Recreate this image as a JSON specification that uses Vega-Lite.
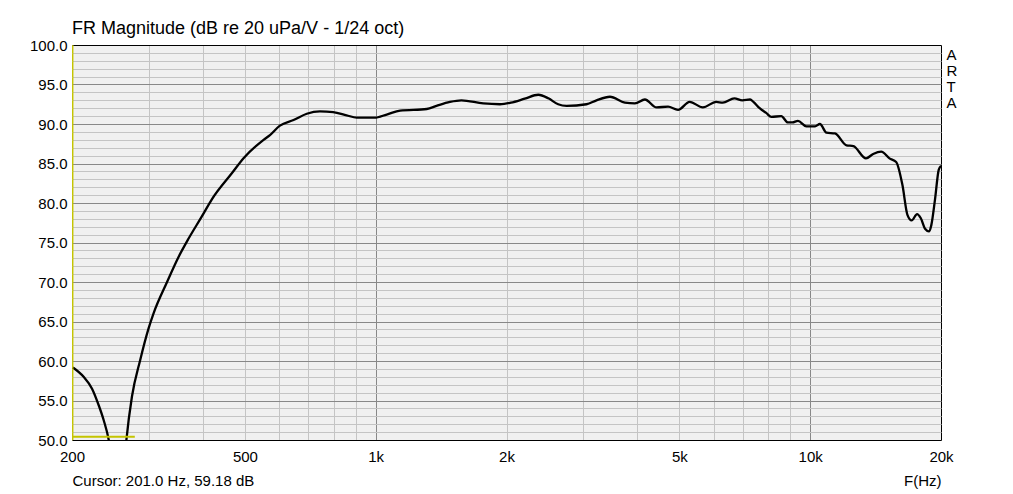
{
  "$schema": "https://vega.github.io/schema/vega-lite/v6.json",
  "width": 869,
  "height": 395,
  "autosize": {"type": "none"},
  "padding": {"left": 72, "top": 45, "right": 72, "bottom": 54},
  "background": "#ffffff",
  "config": {
    "view": {"fill": "#f0f0f0", "stroke": null},
    "font": "Liberation Sans"
  },
  "title": {
    "text": "FR Magnitude (dB re 20 uPa/V - 1/24 oct)",
    "anchor": "start",
    "frame": "group",
    "orient": "top",
    "font": "Liberation Sans",
    "fontSize": 18,
    "fontWeight": "normal",
    "color": "#000000",
    "baseline": "alphabetic",
    "offset": 8,
    "dy": 22
  },
  "datasets": {
    "curve": [
      {"f": 201, "db": 59.18}, {"f": 212.7, "db": 58.0}, {"f": 222.4, "db": 56.5}, {"f": 230.4, "db": 54.4},
      {"f": 236.6, "db": 52.5}, {"f": 243, "db": 50.0}, {"f": 250, "db": 45}, {"f": 256, "db": 39},
      {"f": 262, "db": 45}, {"f": 266.8, "db": 50.0}, {"f": 274.8, "db": 55.5}, {"f": 287, "db": 60.1},
      {"f": 300, "db": 64.1}, {"f": 308, "db": 66.0}, {"f": 331, "db": 70.0}, {"f": 352, "db": 73.2},
      {"f": 371, "db": 75.5}, {"f": 398, "db": 78.3}, {"f": 420, "db": 80.5}, {"f": 467, "db": 83.8},
      {"f": 497, "db": 85.7}, {"f": 552, "db": 88.0}, {"f": 571, "db": 88.6}, {"f": 602, "db": 89.8},
      {"f": 647, "db": 90.5}, {"f": 694, "db": 91.3}, {"f": 744, "db": 91.6}, {"f": 798, "db": 91.5},
      {"f": 857, "db": 91.1}, {"f": 904, "db": 90.8}, {"f": 993, "db": 90.8}, {"f": 1060, "db": 91.2},
      {"f": 1138, "db": 91.7}, {"f": 1311, "db": 91.9}, {"f": 1380, "db": 92.3}, {"f": 1482, "db": 92.8},
      {"f": 1575, "db": 93.0}, {"f": 1768, "db": 92.6}, {"f": 1932, "db": 92.5}, {"f": 2047, "db": 92.7},
      {"f": 2203, "db": 93.2}, {"f": 2367, "db": 93.7}, {"f": 2497, "db": 93.25}, {"f": 2630, "db": 92.5},
      {"f": 2750, "db": 92.3}, {"f": 3056, "db": 92.5}, {"f": 3222, "db": 93.0}, {"f": 3460, "db": 93.45},
      {"f": 3746, "db": 92.7}, {"f": 3950, "db": 92.6}, {"f": 4164, "db": 93.1}, {"f": 4430, "db": 92.1},
      {"f": 4708, "db": 92.2}, {"f": 4964, "db": 91.8}, {"f": 5280, "db": 92.8}, {"f": 5660, "db": 92.1},
      {"f": 6076, "db": 92.8}, {"f": 6292, "db": 92.7}, {"f": 6690, "db": 93.25}, {"f": 6980, "db": 93.0},
      {"f": 7272, "db": 93.1}, {"f": 7400, "db": 92.8}, {"f": 7650, "db": 92.0}, {"f": 7920, "db": 91.4},
      {"f": 8140, "db": 90.9}, {"f": 8580, "db": 91.0}, {"f": 8880, "db": 90.2}, {"f": 9100, "db": 90.2},
      {"f": 9370, "db": 90.4}, {"f": 9800, "db": 89.7}, {"f": 10260, "db": 89.7}, {"f": 10530, "db": 90.0},
      {"f": 10900, "db": 88.9}, {"f": 11400, "db": 88.8}, {"f": 12120, "db": 87.3}, {"f": 12570, "db": 87.2},
      {"f": 13440, "db": 85.65}, {"f": 13960, "db": 86.2}, {"f": 14570, "db": 86.5}, {"f": 15220, "db": 85.65},
      {"f": 15770, "db": 85.2}, {"f": 16300, "db": 82.3}, {"f": 16740, "db": 78.5}, {"f": 17120, "db": 77.8},
      {"f": 17620, "db": 78.6}, {"f": 17960, "db": 78.1}, {"f": 18400, "db": 76.7}, {"f": 18760, "db": 76.4},
      {"f": 19000, "db": 77.2}, {"f": 19370, "db": 80.4}, {"f": 19760, "db": 84.2}, {"f": 20000, "db": 84.7}
    ],
    "cursor": [{"f": 201}],
    "marker": [{"f": 200, "db": 50.4}, {"f": 279, "db": 50.4}]
  },
  "resolve": {"axis": {"y": "independent"}},
  "layer": [
    {
      "data": {"name": "curve"},
      "mark": {"type": "line", "color": "#000000", "strokeWidth": 2.3, "clip": true, "interpolate": "monotone"},
      "encoding": {
        "x": {
          "field": "f",
          "type": "quantitative",
          "scale": {"type": "log", "domain": [200, 20000], "nice": false},
          "axis": {
            "values": [200, 300, 400, 500, 600, 700, 800, 900, 1000, 2000, 3000, 4000, 5000, 6000, 7000, 8000, 9000, 10000, 20000],
            "labelExpr": "indexof([200,500,1000,2000,5000,10000,20000], datum.value) >= 0 ? (datum.value >= 1000 ? (datum.value/1000) + 'k' : '' + datum.value) : ''",
            "grid": true,
            "gridColor": {
              "condition": [
                {"test": "datum.value === 200", "value": "#c4c400"},
                {"test": "datum.value === 20000", "value": "#000000"},
                {"test": "datum.value === 1000 || datum.value === 10000", "value": "#888888"}
              ],
              "value": "#c4c4c4"
            },
            "ticks": false,
            "domain": false,
            "labelFont": "Liberation Sans",
            "labelFontSize": 15,
            "labelColor": "#000000",
            "labelPadding": 9,
            "labelFlush": false,
            "labelOverlap": false,
            "title": "F(Hz)",
            "titleFont": "Liberation Sans",
            "titleFontSize": 15,
            "titleFontWeight": "normal",
            "titleColor": "#000000",
            "titleAnchor": "end",
            "titleAlign": "right",
            "titleBaseline": "alphabetic",
            "titleX": 869,
            "titleY": 45
          }
        },
        "y": {
          "field": "db",
          "type": "quantitative",
          "scale": {"domain": [50, 100], "nice": false, "zero": false},
          "axis": {
            "orient": "left",
            "values": [50,51,52,53,54,55,56,57,58,59,60,61,62,63,64,65,66,67,68,69,70,71,72,73,74,75,76,77,78,79,80,81,82,83,84,85,86,87,88,89,90,91,92,93,94,95,96,97,98,99,100],
            "labelExpr": "datum.value % 5 === 0 ? format(datum.value, '.1f') : ''",
            "grid": true,
            "gridColor": {
              "condition": [
                {"test": "datum.value === 50 || datum.value === 100", "value": "#000000"},
                {"test": "datum.value % 5 === 0", "value": "#888888"}
              ],
              "value": "#c4c4c4"
            },
            "ticks": false,
            "domain": false,
            "labelFont": "Liberation Sans",
            "labelFontSize": 15,
            "labelColor": "#000000",
            "labelPadding": 5,
            "labelOverlap": false,
            "title": "Cursor: 201.0 Hz, 59.18 dB",
            "titleFont": "Liberation Sans",
            "titleFontSize": 15,
            "titleFontWeight": "normal",
            "titleColor": "#000000",
            "titleAngle": 0,
            "titleAlign": "left",
            "titleBaseline": "alphabetic",
            "titleX": 0,
            "titleY": 440
          }
        }
      }
    },
    {
      "data": {"name": "cursor"},
      "mark": {"type": "rule", "color": "#c4c400", "strokeWidth": 1},
      "encoding": {
        "x": {"field": "f", "type": "quantitative"}
      }
    },
    {
      "data": {"name": "marker"},
      "mark": {"type": "line", "color": "#c4c400", "strokeWidth": 2},
      "encoding": {
        "x": {"field": "f", "type": "quantitative"},
        "y": {
          "field": "db",
          "type": "quantitative",
          "axis": {
            "orient": "right",
            "labels": false,
            "ticks": false,
            "domain": false,
            "grid": false,
            "title": ["A", "R", "T", "A"],
            "titleFont": "Liberation Sans",
            "titleFontSize": 15,
            "titleFontWeight": "normal",
            "titleColor": "#000000",
            "titleAngle": 0,
            "titleAlign": "left",
            "titleBaseline": "alphabetic",
            "titleLineHeight": 16,
            "titleX": 5,
            "titleY": 14
          }
        }
      }
    }
  ]
}
